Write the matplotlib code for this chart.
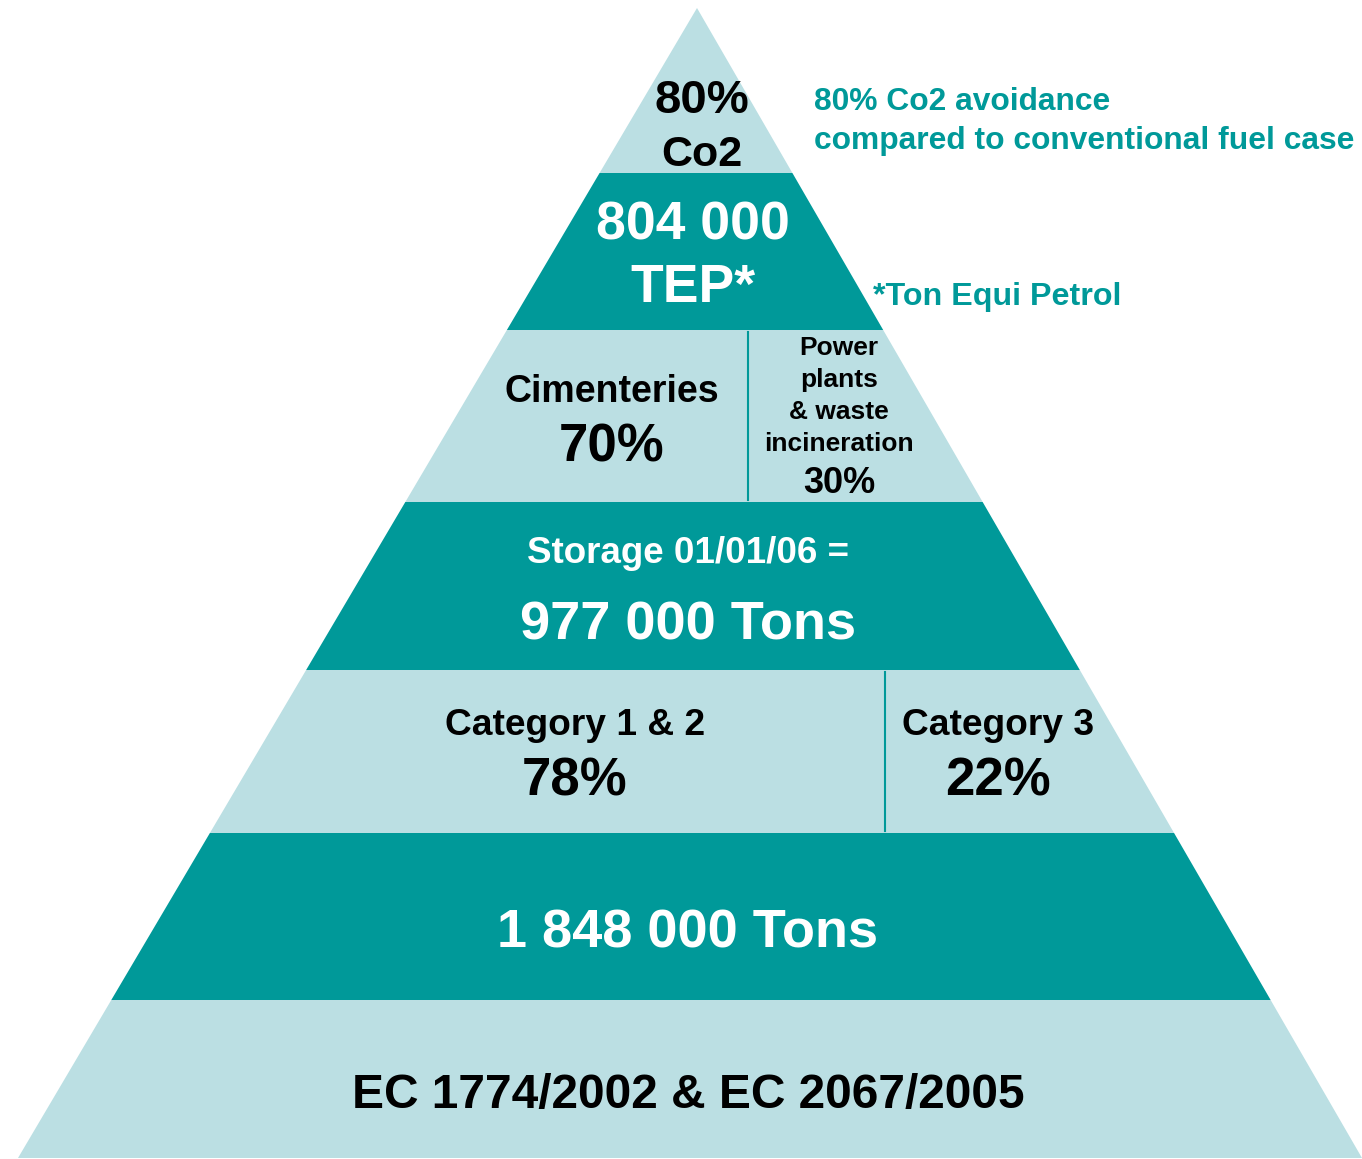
import matplotlib.pyplot as plt
from matplotlib.patches import Polygon

plt.rcParams['font.family'] = ['Liberation Sans', 'DejaVu Sans']

DARK = '#009999'
LIGHT = '#bbdfe3'

# pyramid outline (pixel space, y grows downwards)
apex = (697, 8)
base_left, base_right = 18, 1362
base_y = 1158

# band tops, from the apex down
band_tops = [8, 173, 330, 502, 670, 833, 1000]
band_colors = [LIGHT, DARK, LIGHT, DARK, LIGHT, DARK, LIGHT]

# split bands: (band index, x of the divider)
splits = [(2, 748), (4, 885)]

# labels
top_pct = '80%'
top_gas = 'Co2'
tep_value = '804 000'
tep_unit = 'TEP*'
cement_label = 'Cimenteries'
cement_share = '70%'
power_lines = ['Power', 'plants', '& waste', 'incineration']
power_share = '30%'
storage_label = 'Storage 01/01/06 ='
storage_value = '977 000 Tons'
cat12_label = 'Category 1 & 2'
cat12_share = '78%'
cat3_label = 'Category 3'
cat3_share = '22%'
total_value = '1 848 000 Tons'
regulation = 'EC 1774/2002 & EC 2067/2005'
note_co2 = ['80% Co2 avoidance', 'compared to conventional fuel case']
note_tep = '*Ton Equi Petrol'


def left_x(y):
    return apex[0] + (base_left - apex[0]) * (y - apex[1]) / (base_y - apex[1])


def right_x(y):
    return apex[0] + (base_right - apex[0]) * (y - apex[1]) / (base_y - apex[1])


fig = plt.figure(figsize=(13.62, 11.59), dpi=100)
ax = fig.add_axes([0, 0, 1, 1])
ax.set_xlim(0, 1362)
ax.set_ylim(1159, 0)
ax.axis('off')

bottoms = band_tops[1:] + [base_y]
for top, bot, col in zip(band_tops, bottoms, band_colors):
    pts = [(left_x(top), top), (right_x(top), top),
           (right_x(bot), bot), (left_x(bot), bot)]
    ax.add_patch(Polygon(pts, closed=True, facecolor=col, edgecolor='none'))

for i, x in splits:
    ax.plot([x, x], [band_tops[i] + 2, bottoms[i] - 2], color=DARK, lw=1.5)


def label(x, y, s, size, color='black'):
    ax.text(x, y, s, color=color, fontsize=size, fontweight='bold',
            ha='center', va='baseline')


label(702, 113, top_pct, 34)
label(702, 166, top_gas, 31)
label(693, 239, tep_value, 38.5, 'white')
label(693, 302, tep_unit, 38.5, 'white')

label(612, 402, cement_label, 27)
label(612, 462, cement_share, 38)
for k, line in enumerate(power_lines):
    label(839, 355 + 32 * k, line, 19)
label(839, 493, power_share, 26)

label(688, 563, storage_label, 26.5, 'white')
label(688, 639, storage_value, 39, 'white')

label(575, 735, cat12_label, 26.7)
label(575, 795, cat12_share, 38)
label(998, 735, cat3_label, 26.7)
label(998, 795, cat3_share, 38)

label(688, 947, total_value, 39, 'white')
label(688, 1108, regulation, 34.5)

for k, line in enumerate(note_co2):
    ax.text(814, 110 + 39 * k, line, color=DARK, fontsize=22.9,
            fontweight='bold', ha='left', va='baseline')
ax.text(873, 305, note_tep, color=DARK, fontsize=23.2, fontweight='bold',
        ha='left', va='baseline')

fig.savefig('out.png', dpi=100)
